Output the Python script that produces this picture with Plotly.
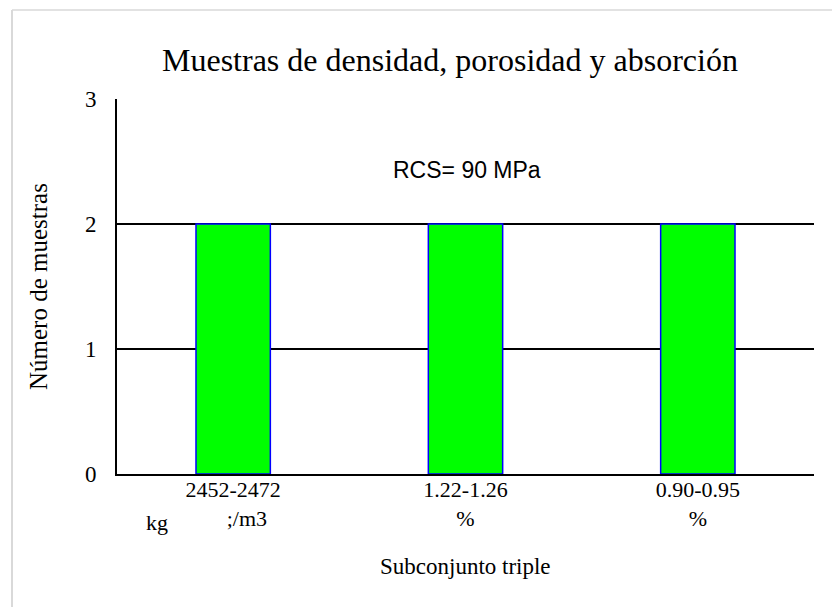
import plotly.graph_objects as go

# Data
categories = ["2452-2472", "1.22-1.26", "0.90-0.95"]
unit_lines = ["\u00a0\u00a0\u00a0\u00a0\u00a0;/m3", "%", "%"]
samples = [2, 2, 2]
y_ticks = [0, 1, 2, 3]

W, H = 832, 607
L, R, T, B = 117, 18, 99, 133
PW, PH = W - L - R, H - T - B


def px(x):
    return (x - L) / PW


def py(y):
    return (H - B - y) / PH


serif = "Liberation Serif"
sans = "Liberation Sans"

fig = go.Figure()
fig.add_trace(go.Bar(
    x=categories,
    y=samples,
    width=0.32,
    marker=dict(color="#00ff00", line=dict(color="#0000ff", width=1.5)),
    showlegend=False,
))

ticktext = [f"{c}<br>{u}" for c, u in zip(categories, unit_lines)]


def label(text, x, y, size, family=serif, angle=0):
    return dict(text=text, textangle=angle,
                xref="paper", yref="paper", x=px(x), y=py(y),
                xanchor="center", yanchor="middle",
                showarrow=False, font=dict(family=family, size=size))


fig.update_layout(
    width=W, height=H,
    margin=dict(l=L, r=R, t=T, b=B),
    paper_bgcolor="white", plot_bgcolor="white",
    font=dict(family=serif, color="black", size=22),
    xaxis=dict(
        tickmode="array", tickvals=categories, ticktext=ticktext,
        showline=True, linecolor="black", linewidth=2,
        showgrid=False, ticks="", ticklabelstandoff=-5,
        tickfont=dict(family=serif, size=22),
        fixedrange=True,
    ),
    yaxis=dict(
        range=[0, 3], tickvals=y_ticks,
        showline=True, linecolor="black", linewidth=2,
        showgrid=True, gridcolor="black", gridwidth=1.5,
        zeroline=False, ticks="", ticklabelstandoff=14,
        tickfont=dict(family=serif, size=23),
        fixedrange=True,
    ),
    shapes=[
        dict(type="line", xref="paper", yref="paper",
             x0=px(12), y0=py(615), x1=px(12), y1=py(10),
             line=dict(color="#d9d9d9", width=2)),
        dict(type="line", xref="paper", yref="paper",
             x0=px(12), y0=py(10), x1=px(840), y1=py(10),
             line=dict(color="#d9d9d9", width=1.5)),
    ],
    annotations=[
        label("Muestras de densidad, porosidad y absorción", 450, 60, 32),
        label("Número de muestras", 38, 287, 25, angle=-90),
        label("Subconjunto triple", 465, 566, 23),
        label("RCS= 90 MPa", 467, 170, 23, family=sans),
        label("kg", 157, 522, 22),
    ],
)

fig.write_html("out.html")
